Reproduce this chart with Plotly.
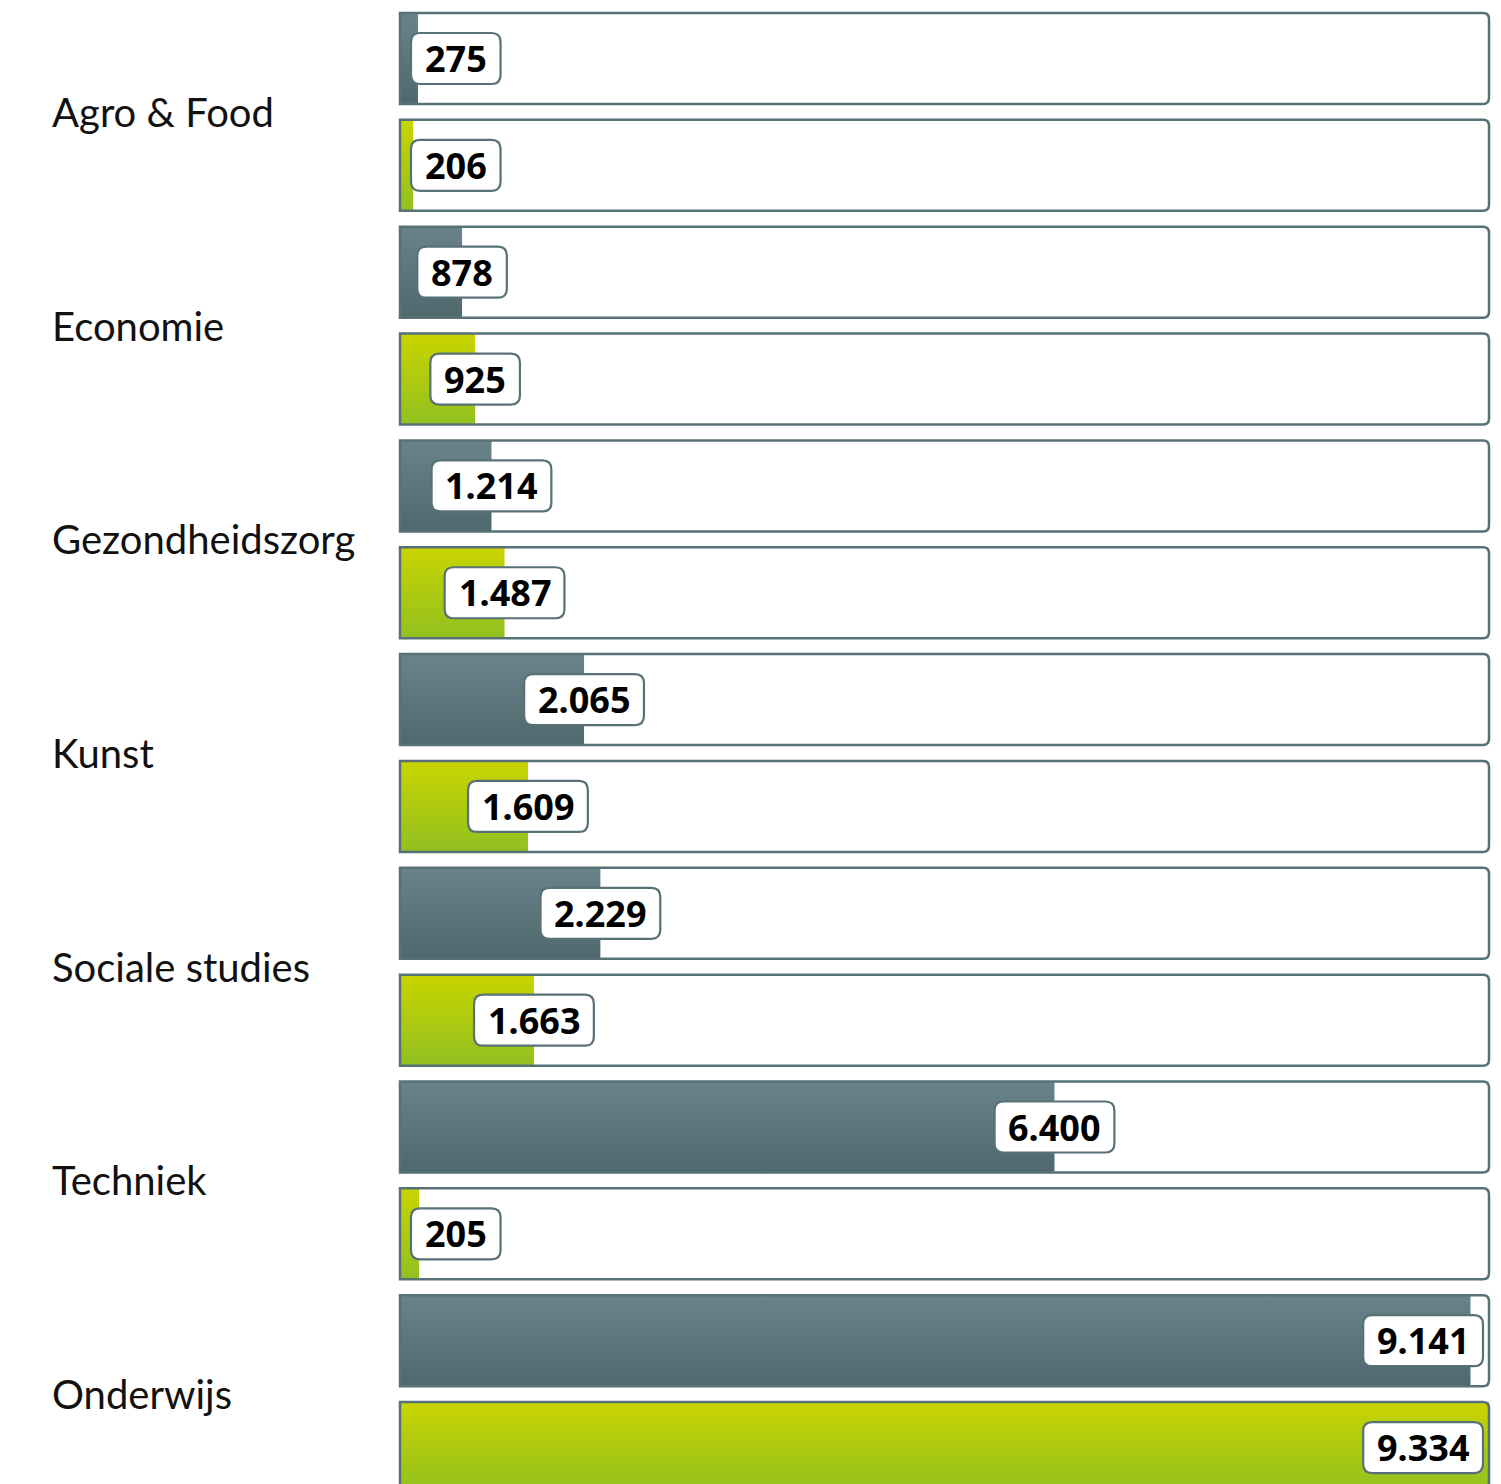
import plotly.graph_objects as go

# ---------------- data ----------------
categories = ["Agro & Food", "Economie", "Gezondheidszorg", "Kunst", "Sociale studies", "Techniek", "Onderwijs"]
grey_labels = ["275", "878", "1.214", "2.065", "2.229", "6.400", "9.141"]
green_labels = ["206", "925", "1.487", "1.609", "1.663", "205", "9.334"]
# bar lengths (percent of the full track)
grey_pct = [1.65, 5.7, 8.4, 16.9, 18.4, 60.1, 98.3]
green_pct = [1.2, 6.9, 9.6, 11.75, 12.3, 1.75, 100.0]

# ---------------- styling / geometry ----------------
OFF = 8                                # page body margin
W, H = 1501 - OFF, 1484 - OFF
TRACK_L, TRACK_R = 400 - OFF, 1489 - OFF
PX_PER_UNIT = (TRACK_R - TRACK_L) / 100.0
ROW0, PITCH, BAR_H = 58.5 - OFF, 106.85, 91
BORDER = "#587177"
GREY_TOP, GREY_BOT = "#6a838a", "#4f686e"
GREEN_TOP, GREEN_BOT = "#c9d400", "#92c021"
LABEL_SIZE = 36

dom_l, dom_r = TRACK_L - 3, TRACK_R + 4
x_range = [(dom_l - TRACK_L) / PX_PER_UNIT, (dom_r - TRACK_L) / PX_PER_UNIT]
y_range = [(H - ROW0) / PITCH, -ROW0 / PITCH]
hh = BAR_H / 2 / PITCH

fig = go.Figure()
shapes = []
annotations = []

rows = []
for i, cat in enumerate(categories):
    rows.append((2 * i, grey_pct[i], grey_labels[i], GREY_TOP, GREY_BOT))
    rows.append((2 * i + 1, green_pct[i], green_labels[i], GREEN_TOP, GREEN_BOT))


def track_path(k):
    rx = 6 / PX_PER_UNIT
    ry = 6 / PITCH
    top, bot = k - hh, k + hh
    return (f"M 0,{top} L {100 - rx},{top} Q 100,{top} 100,{top + ry} "
            f"L 100,{bot - ry} Q 100,{bot} {100 - rx},{bot} L 0,{bot} Z")


def box_path(w, h=51, r=9):
    a, b = w / 2, h / 2
    return (f"M {-a + r},{-b} L {a - r},{-b} Q {a},{-b} {a},{-b + r} "
            f"L {a},{b - r} Q {a},{b} {a - r},{b} L {-a + r},{b} Q {-a},{b} {-a},{b - r} "
            f"L {-a},{-b + r} Q {-a},{-b} {-a + r},{-b} Z")


def text_width(s, size=LABEL_SIZE):
    w = 0
    for ch in s:
        w += 0.27 * size if ch == "." else 0.57 * size
    return w


for k, pct, label, ctop, cbot in rows:
    shapes.append(dict(type="path", path=track_path(k), xref="x", yref="y",
                       fillcolor="white", line=dict(width=0), layer="below"))
    top, bot = k - hh, k + hh
    fig.add_trace(go.Scatter(
        x=[0, pct, pct, 0, 0], y=[top, top, bot, bot, top],
        mode="none", fill="toself",
        fillgradient=dict(type="vertical", colorscale=[[0, cbot], [1, ctop]]),
        hoverinfo="skip", showlegend=False))
    shapes.append(dict(type="path", path=track_path(k), xref="x", yref="y",
                       fillcolor="rgba(0,0,0,0)", line=dict(color=BORDER, width=2.5), layer="above"))

for k, pct, label, ctop, cbot in rows:
    bw = text_width(label) + 28
    end_px = TRACK_L + pct * PX_PER_UNIT
    cx = min(max(end_px, TRACK_L + 11 + bw / 2), TRACK_R - 6 - bw / 2)
    cxd = (cx - TRACK_L) / PX_PER_UNIT
    shapes.append(dict(type="path", path=box_path(bw), xref="x", yref="y",
                       xsizemode="pixel", ysizemode="pixel", xanchor=cxd, yanchor=k,
                       fillcolor="white", line=dict(color=BORDER, width=2.2), layer="above"))
    annotations.append(dict(x=cxd, y=k, xref="x", yref="y", text=f"<b>{label}</b>",
                            showarrow=False, xanchor="center", yanchor="middle",
                            font=dict(family="Noto Sans", size=LABEL_SIZE, color="#000000")))

for i, cat in enumerate(categories):
    annotations.append(dict(x=(52 - OFF - 2) / W, y=2 * i + 0.5, xref="paper", yref="y", text=cat,
                            showarrow=False, xanchor="left", yanchor="middle",
                            font=dict(family="Lato", size=40, color="#111111")))

fig.update_layout(
    width=W, height=H,
    margin=dict(l=0, r=0, t=0, b=0),
    paper_bgcolor="white", plot_bgcolor="white",
    shapes=shapes, annotations=annotations,
    xaxis=dict(domain=[dom_l / W, dom_r / W], range=x_range, visible=False, fixedrange=True),
    yaxis=dict(domain=[0, 1], range=y_range, visible=False, fixedrange=True),
    showlegend=False,
)

fig.write_html("out.html")
